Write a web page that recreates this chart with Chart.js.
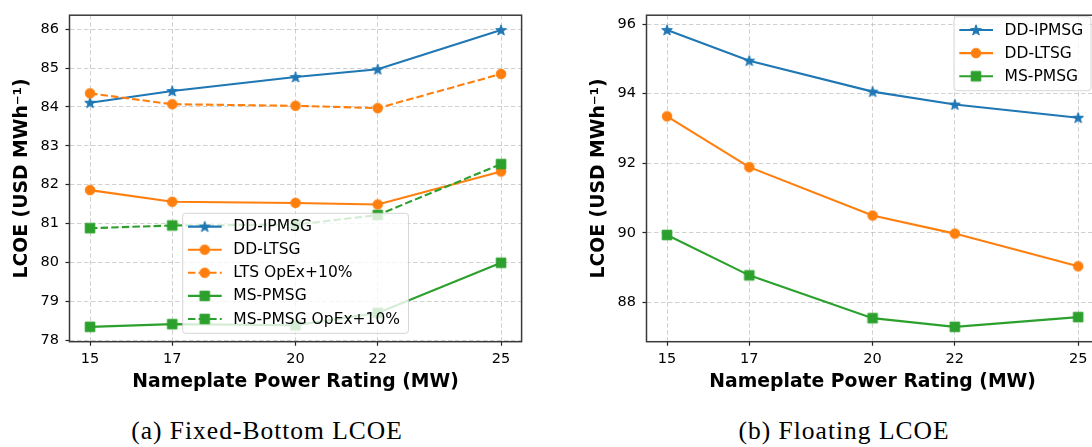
<!DOCTYPE html>
<html>
<head>
<meta charset="utf-8">
<script src="https://cdn.jsdelivr.net/npm/chart.js@4.4.1/dist/chart.umd.min.js"></script>
<style>
    body { margin: 0; background: #fff; overflow: hidden; width: 1092px; height: 447px; position: relative; }
    canvas { position: absolute; top: 0; }
    .caption {
        position: absolute; top: 416px; width: 400px; text-align: center;
        font-family: "Liberation Serif", serif; font-size: 25.5px; line-height: 30px;
        letter-spacing: 1px; color: #000; white-space: nowrap;
    }
</style>
</head>
<body>
<canvas id="fixedChart" width="540" height="400" style="left:0px"></canvas>
<canvas id="floatChart" width="536" height="400" style="left:576px"></canvas>
<div class="caption" style="left:67px">(a) Fixed-Bottom LCOE</div>
<div class="caption" style="left:644px">(b) Floating LCOE</div>
<script>
// Nameplate power ratings (MW)
const powerMW = [15, 17, 20, 22, 25];

// Fixed-bottom LCOE (USD/MWh)
const fixedDDIPMSG = [84.11, 84.41, 84.77, 84.97, 85.98];
const fixedDDLTSG = [81.86, 81.56, 81.53, 81.49, 82.34];
const fixedLTSOpex = [84.35, 84.07, 84.03, 83.97, 84.85];
const fixedMSPMSG = [78.34, 78.41, 78.38, 78.70, 79.99];
const fixedMSOpex = [80.88, 80.95, 80.97, 81.22, 82.53];
const fixedYTicks = [78, 79, 80, 81, 82, 83, 84, 85, 86];

// Floating LCOE (USD/MWh)
const floatDDIPMSG = [95.83, 94.95, 94.06, 93.69, 93.31];
const floatDDLTSG = [93.35, 91.89, 90.50, 89.98, 89.04];
const floatMSPMSG = [89.94, 88.78, 87.55, 87.30, 87.58];
const floatYTicks = [88, 90, 92, 94, 96];

const BLUE = '#1f77b4', ORANGE = '#ff7f0e', GREEN = '#2ca02c';
const TICK_FONT = { family: 'DejaVu Sans', size: 14.5 };
const LABEL_FONT = { family: 'DejaVu Sans', size: 18.8, weight: 'bold' };

Chart.defaults.font.family = 'DejaVu Sans';

// small canvases used as matplotlib-like markers
function makeMarker(shape, color) {
    const c = document.createElement('canvas');
    c.width = 14; c.height = 14;
    const g = c.getContext('2d');
    g.fillStyle = color; g.strokeStyle = color; g.lineWidth = 1;
    g.beginPath();
    if (shape === 'star') {
        for (let i = 0; i < 10; i++) {
            const r = i % 2 === 0 ? 5.6 : 2.3;
            const a = -Math.PI / 2 + i * Math.PI / 5;
            g.lineTo(7 + r * Math.cos(a), 7.4 + r * Math.sin(a));
        }
        g.closePath();
    } else if (shape === 'circle') {
        g.arc(7, 7, 4.8, 0, Math.PI * 2);
    } else {
        g.rect(2.2, 2.2, 9.6, 9.6);
    }
    g.fill(); g.stroke();
    return c;
}
const starMarker = makeMarker('star', BLUE);
const circleMarker = makeMarker('circle', ORANGE);
const squareMarker = makeMarker('square', GREEN);

function series(label, values, color, marker, dashed) {
    return {
        label: label,
        data: values.map((v, i) => ({ x: powerMW[i], y: v })),
        borderColor: color,
        backgroundColor: color,
        borderWidth: 2.1,
        borderDash: dashed ? [7.4, 3.2] : [],
        pointStyle: marker,
        pointRadius: 5,
        tension: 0,
        fill: false
    };
}

// matplotlib style autoscale (5% margin)
function padRange(lists) {
    const all = [].concat(...lists);
    const lo = Math.min(...all), hi = Math.max(...all);
    const m = (hi - lo) * 0.05;
    return [lo - m, hi + m];
}

// spines + legend box drawn over the data like matplotlib
const mplFrame = {
    id: 'mplFrame',
    afterDatasetsDraw(chart, args, opts) {
        const { ctx, chartArea: a } = chart;
        ctx.save();
        ctx.strokeStyle = '#3a3a3a';
        ctx.lineWidth = 1.5;
        ctx.strokeRect(a.left, a.top, a.right - a.left, a.bottom - a.top);

        const L = opts.box;
        ctx.beginPath();
        ctx.roundRect(L.x, L.y, L.w, L.h, 3);
        ctx.fillStyle = 'rgba(255,255,255,0.8)';
        ctx.fill();
        ctx.strokeStyle = 'rgba(204,204,204,0.8)';
        ctx.lineWidth = 1;
        ctx.stroke();

        chart.data.datasets.forEach((ds, i) => {
            const cy = L.y + 13.3 + i * 23.1;
            ctx.strokeStyle = ds.borderColor;
            ctx.lineWidth = 2.1;
            ctx.setLineDash(ds.borderDash);
            ctx.beginPath();
            ctx.moveTo(L.x + 5.3, cy);
            ctx.lineTo(L.x + 39, cy);
            ctx.stroke();
            ctx.setLineDash([]);
            const img = ds.pointStyle;
            ctx.drawImage(img, L.x + 22 - img.width / 2, cy - img.height / 2);
            ctx.fillStyle = '#000';
            ctx.font = '15.5px "DejaVu Sans"';
            ctx.textBaseline = 'middle';
            ctx.textAlign = 'left';
            ctx.fillText(ds.label, L.x + 50.6, cy + 0.5);
        });
        ctx.restore();
    }
};

function makeChart(id, datasets, yTicks, yRange, yWidth, padRight, yTitlePad, legendBox) {
    const n = datasets.length;
    datasets.forEach((ds, i) => { ds.order = n - i; });
    const gridOpts = {
        color: 'rgba(176,176,176,0.6)',
        lineWidth: 1,
        drawTicks: true,
        tickLength: 4,
        tickColor: '#222',
        tickWidth: 1.2,
        tickBorderDash: []
    };
    const borderOpts = { display: false, dash: [4.5, 2.5] };
    return new Chart(document.getElementById(id), {
        type: 'line',
        data: { datasets: datasets },
        options: {
            responsive: false,
            animation: false,
            devicePixelRatio: 1,
            layout: { padding: { top: yRange.top, right: padRight, left: 0, bottom: 0 } },
            plugins: {
                legend: { display: false },
                tooltip: { enabled: false },
                mplFrame: { box: legendBox }
            },
            scales: {
                x: {
                    type: 'linear',
                    min: 14.5,
                    max: 25.5,
                    afterBuildTicks: s => { s.ticks = powerMW.map(v => ({ value: v })); },
                    afterFit: s => { s.height = 58.3; },
                    ticks: { font: TICK_FONT, color: '#000', padding: 5, maxRotation: 0, autoSkip: false },
                    grid: gridOpts,
                    border: borderOpts,
                    title: {
                        display: true,
                        text: 'Nameplate Power Rating (MW)',
                        font: LABEL_FONT,
                        color: '#000',
                        padding: { top: 0, bottom: 6.7 }
                    }
                },
                y: {
                    type: 'linear',
                    min: yRange.min,
                    max: yRange.max,
                    afterBuildTicks: s => { s.ticks = yTicks.map(v => ({ value: v })); },
                    afterFit: s => { s.width = yWidth; },
                    ticks: { font: TICK_FONT, color: '#000', padding: 6.5 },
                    grid: gridOpts,
                    border: borderOpts,
                    title: {
                        display: true,
                        text: 'LCOE (USD MWh⁻¹)',
                        font: LABEL_FONT,
                        color: '#000',
                        padding: { top: yTitlePad, bottom: 0 }
                    }
                }
            }
        },
        plugins: [mplFrame]
    });
}

const fixedRange = padRange([fixedDDIPMSG, fixedDDLTSG, fixedLTSOpex, fixedMSPMSG, fixedMSOpex]);
makeChart('fixedChart', [
    series('DD-IPMSG', fixedDDIPMSG, BLUE, starMarker, false),
    series('DD-LTSG', fixedDDLTSG, ORANGE, circleMarker, false),
    series('LTS OpEx+10%', fixedLTSOpex, ORANGE, circleMarker, true),
    series('MS-PMSG', fixedMSPMSG, GREEN, squareMarker, false),
    series('MS-PMSG OpEx+10%', fixedMSOpex, GREEN, squareMarker, true)
], fixedYTicks, { min: fixedRange[0], max: fixedRange[1], top: 10 }, 69.5, 18.4, 10.7,
    { x: 182.7, y: 213.3, w: 225.8, h: 120 });

const floatRange = padRange([floatDDIPMSG, floatDDLTSG, floatMSPMSG]);
makeChart('floatChart', [
    series('DD-IPMSG', floatDDIPMSG, BLUE, starMarker, false),
    series('DD-LTSG', floatDDLTSG, ORANGE, circleMarker, false),
    series('MS-PMSG', floatMSPMSG, GREEN, squareMarker, false)
], floatYTicks, { min: floatRange[0], max: floatRange[1], top: 9.3 }, 70.5, 13.3, 11.7,
    { x: 378, y: 16.7, w: 137, h: 74 });
</script>
</body>
</html>
